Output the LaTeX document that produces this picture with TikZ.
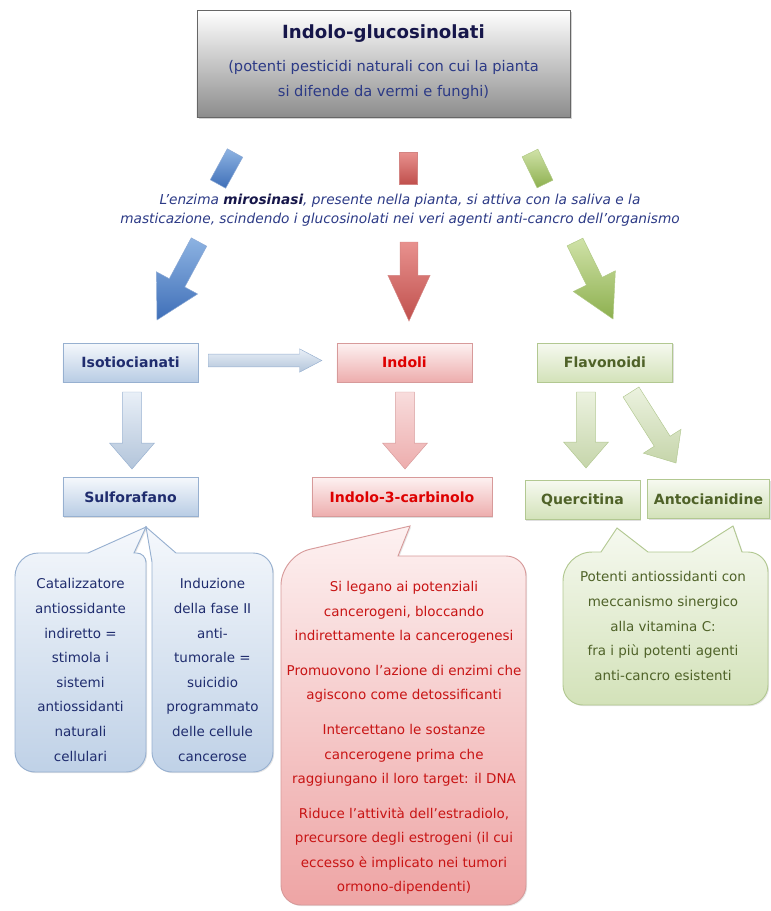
\documentclass[tikz,border=0pt]{standalone}
\usepackage{fontspec}
\setmainfont{DejaVu Sans}
\usetikzlibrary{calc,shadows}

\definecolor{navy}{HTML}{1F2C6E}
\definecolor{titlenavy}{HTML}{16164A}
\definecolor{subnavy}{HTML}{2C3A86}
\definecolor{redtxt}{HTML}{DE0000}
\definecolor{notered}{HTML}{C81414}
\definecolor{olive}{HTML}{4F6228}
\definecolor{bluetop}{HTML}{F5F8FC}
\definecolor{bluebot}{HTML}{B8CCE4}
\definecolor{blueline}{HTML}{97B0D0}
\definecolor{redtop}{HTML}{FDF1F1}
\definecolor{redbot}{HTML}{EDADAD}
\definecolor{redline}{HTML}{D79A9A}
\definecolor{greentop}{HTML}{F6F9F0}
\definecolor{greenbot}{HTML}{D3E2B9}
\definecolor{greenline}{HTML}{B2C891}
\definecolor{arrblue}{HTML}{3F6FB8}
\definecolor{arrbluetop}{HTML}{8DB3E2}
\definecolor{arrred}{HTML}{C0504D}
\definecolor{arrredtop}{HTML}{E8918E}
\definecolor{arrgreen}{HTML}{8DB04F}
\definecolor{arrgreentop}{HTML}{D0E2A8}

% fat arrow: [style]{from}{to}{shaft half width}{head half width}{head length}
\newcommand{\fatarrow}[6][]{%
  \coordinate (fahead) at ($(#3)!#6!(#2)$);
  \draw[#1] ($(#2)!#4!90:(#3)$) -- ($(fahead)!#4!90:(#3)$)
    -- ($(fahead)!#5!90:(#3)$) -- (#3) -- ($(fahead)!#5!-90:(#3)$)
    -- ($(fahead)!#4!-90:(#3)$) -- ($(#2)!#4!-90:(#3)$) -- cycle;}
% arrow tail without head
\newcommand{\fatbar}[4][]{%
  \draw[#1] ($(#2)!#4!90:(#3)$) -- ($(#3)!#4!-90:(#2)$)
    -- ($(#3)!#4!90:(#2)$) -- ($(#2)!#4!-90:(#3)$) -- cycle;}

\tikzset{%
  hdrbox/.style    = {shape=rectangle, draw=black!60, top color=white,%
                      bottom color=black!45, minimum width=11.19cm,%
                      minimum height=3.21cm,%
                      drop shadow={shadow xshift=2pt, shadow yshift=-2pt, opacity=.35}},%
  tagbox/.style    = {shape=rectangle, draw, align=center,%
                      font=\fontsize{12}{14}\selectfont\bfseries,%
                      minimum width=4.05cm, minimum height=1.17cm,%
                      drop shadow={shadow xshift=1pt, shadow yshift=-1pt, opacity=.25}},%
  bluebox/.style   = {tagbox, draw=blueline, top color=bluetop, bottom color=bluebot, text=navy},%
  redbox/.style    = {tagbox, draw=redline, top color=redtop, bottom color=redbot, text=redtxt},%
  greenbox/.style  = {tagbox, draw=greenline, top color=greentop, bottom color=greenbot, text=olive},%
  note/.style      = {line width=0.8pt,%
                      drop shadow={shadow xshift=1pt, shadow yshift=-1pt, opacity=.2}},%
  bluenote/.style  = {note, draw=blueline, top color=bluetop, bottom color=bluebot!90},%
  rednote/.style   = {note, draw=redline, top color=redtop, bottom color=redbot!95!red},%
  greennote/.style = {note, draw=greenline, top color=greentop, bottom color=greenbot},%
  notetext/.style  = {align=center, inner sep=0pt, font=\fontsize{11.5}{21}\selectfont},%
  bigblue/.style   = {draw=arrblue!60!white, top color=arrbluetop, bottom color=arrblue},%
  bigred/.style    = {draw=arrred!70!white, top color=arrredtop, bottom color=arrred},%
  biggreen/.style  = {draw=arrgreen!70!white, top color=arrgreentop, bottom color=arrgreen},%
  smallblue/.style = {draw=blueline, top color=bluetop!80!bluebot, bottom color=bluebot!90!gray},%
  smallred/.style  = {draw=redline, top color=redtop!70!redbot, bottom color=redbot},%
  smallgreen/.style= {draw=greenline, top color=greentop!70!greenbot, bottom color=greenbot!90!olive}%
}

\begin{document}
\begin{tikzpicture}[x=0.03cm, y=-0.03cm]
  \useasboundingbox (0,0) rectangle (770,911);

  % header
  \node[hdrbox] (hdr) at (383.5,63.5) {};
  \node[font=\fontsize{15.5}{18}\selectfont\bfseries, text=titlenavy] (hdrtitle) at (383.5,34) {Indolo-glucosinolati};
  \node[align=center, font=\fontsize{12.5}{21.3}\selectfont, text=subnavy] (hdrsub) at (383.5,80)
    {(potenti pesticidi naturali con cui la pianta\\si difende da vermi e funghi)};

  % tails of the three big arrows
  \coordinate (bs1) at (235,153); \coordinate (bs2) at (218,184);
  \coordinate (rs1) at (408,152); \coordinate (rs2) at (408,184);
  \coordinate (gs1) at (530,153); \coordinate (gs2) at (545,184);
  \fatbar[bigblue]{bs1}{bs2}{7.5pt}
  \fatbar[bigred]{rs1}{rs2}{7.5pt}
  \fatbar[biggreen]{gs1}{gs2}{7.5pt}

  \node[align=center, font=\fontsize{11.7}{16}\selectfont\itshape, text=subnavy] (enz) at (400,210)
    {L'enzima \textcolor{titlenavy}{\textbf{mirosinasi}}, presente nella pianta, si attiva con la saliva e la\\
     masticazione, scindendo i glucosinolati nei veri agenti anti-cancro dell'organismo};

  \coordinate (ba1) at (199,242); \coordinate (ba2) at (157,320);
  \coordinate (ra1) at (409,242); \coordinate (ra2) at (409,321);
  \coordinate (ga1) at (575,242); \coordinate (ga2) at (613,319);
  \fatarrow[bigblue]{ba1}{ba2}{7.5pt}{20pt}{36pt}
  \fatarrow[bigred]{ra1}{ra2}{7.5pt}{18pt}{39pt}
  \fatarrow[biggreen]{ga1}{ga2}{7.5pt}{20pt}{36pt}

  % first row
  \node[bluebox] (iso) at (130.5,362.5) {Isotiocianati};
  \node[redbox] (ind) at (404.5,362.5) {Indoli};
  \node[greenbox] (flav) at (605,362.5) {Flavonoidi};

  % second row
  \node[bluebox] (sulf) at (130.5,497) {Sulforafano};
  \node[redbox, minimum width=5.4cm] (i3c) at (402,497) {Indolo-3-carbinolo};
  \node[greenbox, minimum width=3.45cm] (querc) at (582.5,500) {Quercitina};
  \node[greenbox, minimum width=3.66cm] (anto) at (708.5,499) {Antocianidine};

  \coordinate (h1) at ($(iso.east)+(10,-2)$);
  \coordinate (h2) at ($(ind.west)+(-15,-2)$);
  \fatarrow[smallblue]{h1}{h2}{5.5pt}{10pt}{19pt}
  \coordinate (bv1) at (132,392); \coordinate (bv2) at (132,469);
  \coordinate (rv1) at (405,392); \coordinate (rv2) at (405,469);
  \coordinate (gv1) at (586,392); \coordinate (gv2) at (586,468);
  \coordinate (gd1) at (631,392); \coordinate (gd2) at (676,463);
  \fatarrow[smallblue]{bv1}{bv2}{8pt}{19pt}{22pt}
  \fatarrow[smallred]{rv1}{rv2}{8pt}{19pt}{22pt}
  \fatarrow[smallgreen]{gv1}{gv2}{8pt}{19pt}{22pt}
  \fatarrow[smallgreen]{gd1}{gd2}{8pt}{19pt}{22pt}

  % callouts
  \draw[bluenote] (15,660) [rounded corners=20pt] -- (15,553) [sharp corners] -- (88,553)
    -- (146,527) -- (134,553) [rounded corners=8pt] -- (146,553) [rounded corners=17pt]
    -- (146,772) -- (15,772) -- cycle;
  \draw[bluenote] (273,660) [rounded corners=17pt] -- (273,772) -- (152,772) [sharp corners]
    -- (152,562) -- (146,527) -- (176,553) [rounded corners=17pt] -- (273,553) -- cycle;
  \draw[rednote] (281,730) [rounded corners=25pt] -- (281,556) [sharp corners] -- (410,526)
    -- (398,556) [rounded corners=17pt] -- (526,556) -- (526,905) -- (281,905) -- cycle;
  \draw[greennote] (563,630) [rounded corners=25pt] -- (563,552) [sharp corners] -- (601,552)
    -- (617,528) -- (648,552) -- (692,552) -- (733,526) -- (742,552) [rounded corners=17pt]
    -- (768,552) -- (768,705) -- (563,705) -- cycle;

  \node[notetext, text=navy] (cb1) at (80.5,670)
    {Catalizzatore\\antiossidante\\indiretto =\\stimola i\\sistemi\\antiossidanti\\naturali\\cellulari};
  \node[notetext, text=navy] (cb2) at (212.5,670)
    {Induzione\\della fase II\\anti-\\tumorale =\\suicidio\\programmato\\delle cellule\\cancerose};
  \node[notetext, text=notered] (cr) at (404,738)
    {Si legano ai potenziali\\cancerogeni, bloccando\\indirettamente la cancerogenesi\\[8.5pt]
     Promuovono l'azione di enzimi che\\agiscono come detossificanti\\[8.5pt]
     Intercettano le sostanze\\cancerogene prima che\\raggiungano il loro target: il DNA\\[8.5pt]
     Riduce l'attività dell'estradiolo,\\precursore degli estrogeni (il cui\\eccesso è implicato nei tumori\\ormono-dipendenti)};
  \node[notetext, text=olive] (cg) at (663,626)
    {Potenti antiossidanti con\\meccanismo sinergico\\alla vitamina C:\\fra i più potenti agenti\\anti-cancro esistenti};
\end{tikzpicture}
\end{document}
